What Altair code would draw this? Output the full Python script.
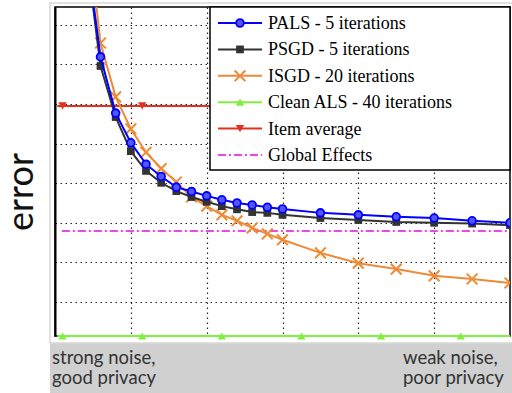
import altair as alt
import pandas as pd

# ---- data (arbitrary error units) ----
x_vals = [2, 3, 4, 5, 6, 7, 8, 9, 10, 11, 12, 13, 14, 15, 17.5, 20, 22.5, 25, 27.5, 30]
pals = [10.1, 7.19, 5.77, 5.02, 4.48, 4.17, 3.90, 3.79, 3.68, 3.58, 3.50, 3.45, 3.39, 3.35,
        3.25, 3.20, 3.15, 3.12, 3.05, 3.00]
psgd = [10.0, 6.96, 5.67, 4.81, 4.31, 4.01, 3.80, 3.65, 3.53, 3.42, 3.34, 3.27, 3.25, 3.20,
        3.12, 3.07, 3.02, 3.00, 2.98, 2.94]
isgd = [10.95, 7.54, 6.18, 5.37, 4.78, 4.37, 4.03, 3.65, 3.42, 3.20, 3.05, 2.87, 2.72, 2.57,
        2.24, 1.98, 1.83, 1.66, 1.58, 1.48]

flat_line_x = [0.15, 30]
flat_marker_x = [0.5, 5.75, 11.0, 16.25, 21.5, 26.75]
clean_als = 0.14
item_average = 5.95
global_line_x = [0.45, 30]
global_effects = 2.79

labels = ["PALS - 5 iterations", "PSGD - 5 iterations", "ISGD - 20 iterations",
          "Clean ALS - 40 iterations", "Item average", "Global Effects"]
colors = ["#0000ff", "#333333", "#ee8a35", "#80f040", "#e0321e", "#ee44ee"]

x_grid = [5, 10, 15, 20, 25]
y_grid = [1, 2, 3, 4, 5, 6, 7, 8]

X_DOMAIN = [0, 30]
Y_DOMAIN = [0.14, 8.45]
CROSS = "M-1,-1L1,1M1,-1L-1,1"
SERIF = "Liberation Serif"
SANS = "Lato"


def xenc():
    return alt.X("x:Q", scale=alt.Scale(domain=X_DOMAIN, nice=False, zero=False),
                 axis=alt.Axis(values=x_grid, labels=False, ticks=False, domain=False,
                               title=None, grid=True))


def yenc():
    return alt.Y("err:Q", scale=alt.Scale(domain=Y_DOMAIN, nice=False, zero=False),
                 axis=alt.Axis(values=y_grid, labels=False, ticks=False, domain=True,
                               domainColor="black", domainWidth=2, title=None, grid=True))


def df(xs, ys):
    return pd.DataFrame({"x": xs, "err": ys})


one = pd.DataFrame({"a": [0]})
layers = []

# figure border and bottom band
layers.append(alt.Chart(one).mark_rect(fill="#d0d0d0", clip=False).encode(
    x=alt.value(-5), x2=alt.value(460), y=alt.value(336), y2=alt.value(390)))
layers.append(alt.Chart(one).mark_rect(filled=False, stroke="#d8d8d8", strokeWidth=1.5,
                                       clip=False).encode(
    x=alt.value(-5), x2=alt.value(462), y=alt.value(-4), y2=alt.value(336)))

# flat reference lines
layers.append(alt.Chart(df(global_line_x, [global_effects] * 2)).mark_line(
    color=colors[5], strokeWidth=2, strokeDash=[8, 3, 2, 3]).encode(x=xenc(), y=yenc()))
layers.append(alt.Chart(df(flat_line_x, [item_average] * 2)).mark_line(
    color=colors[4], strokeWidth=2).encode(x=xenc(), y=yenc()))
layers.append(alt.Chart(df(flat_marker_x, [item_average] * len(flat_marker_x))).mark_point(
    shape="triangle-down", filled=True, color=colors[4], size=70, opacity=1).encode(x=xenc(), y=yenc()))
layers.append(alt.Chart(df(flat_line_x, [clean_als] * 2)).mark_line(
    color=colors[3], strokeWidth=2, clip=False).encode(x=xenc(), y=yenc()))
layers.append(alt.Chart(df(flat_marker_x, [clean_als] * len(flat_marker_x))).mark_point(
    shape="triangle-up", filled=True, color=colors[3], size=70, opacity=1, clip=False).encode(
    x=xenc(), y=yenc()))

# curves
layers.append(alt.Chart(df(x_vals, isgd)).mark_line(color=colors[2], strokeWidth=2, clip=True)
              .encode(x=xenc(), y=yenc()))
layers.append(alt.Chart(df(x_vals, isgd)).mark_point(shape=CROSS, color=colors[2], strokeWidth=2,
                                                      size=115, opacity=1, clip=True)
              .encode(x=xenc(), y=yenc()))
layers.append(alt.Chart(df(x_vals, psgd)).mark_line(color=colors[1], strokeWidth=2, clip=True)
              .encode(x=xenc(), y=yenc()))
layers.append(alt.Chart(df(x_vals, psgd)).mark_point(shape="square", filled=True, color=colors[1],
                                                      size=60, opacity=1, clip=True)
              .encode(x=xenc(), y=yenc()))
layers.append(alt.Chart(df(x_vals, pals)).mark_line(color=colors[0], strokeWidth=2, clip=True)
              .encode(x=xenc(), y=yenc()))
layers.append(alt.Chart(df(x_vals, pals)).mark_point(shape="circle", fill="#5555ff",
                                                      stroke=colors[0], strokeWidth=1.8,
                                                      filled=True, size=60, opacity=1, clip=True)
              .encode(x=xenc(), y=yenc()))

# legend box
layers.append(alt.Chart(one).mark_rect(fill="white", stroke="black", strokeWidth=1.5).encode(
    x=alt.value(155), x2=alt.value(455), y=alt.value(0), y2=alt.value(163)))
marker_styles = [
    dict(shape="circle", filled=True, fill="#5555ff", stroke=colors[0], strokeWidth=1.8, size=60),
    dict(shape="square", filled=True, color=colors[1], size=60),
    dict(shape=CROSS, color=colors[2], strokeWidth=2, size=115),
    dict(shape="triangle-up", filled=True, color=colors[3], size=70),
    dict(shape="triangle-down", filled=True, color=colors[4], size=70),
    None,
]
for i, (lab, col) in enumerate(zip(labels, colors)):
    yy = 16 + 26.4 * i
    rule_kw = dict(color=col, strokeWidth=2)
    if i == 5:
        rule_kw["strokeDash"] = [8, 3, 2, 3]
    layers.append(alt.Chart(one).mark_rule(**rule_kw).encode(
        x=alt.value(163), x2=alt.value(207), y=alt.value(yy)))
    if marker_styles[i] is not None:
        layers.append(alt.Chart(one).mark_point(opacity=1, **marker_styles[i]).encode(
            x=alt.value(185), y=alt.value(yy)))
    layers.append(alt.Chart(one).mark_text(align="left", baseline="middle", font=SERIF,
                                           fontSize=18, color="black").encode(
        x=alt.value(213), y=alt.value(yy + 1), text=alt.value(lab)))

# annotations
layers.append(alt.Chart(one).mark_text(angle=270, align="center", baseline="middle", font=SANS,
                                       fontSize=36, color="#111111").encode(
    x=alt.value(-33), y=alt.value(185), text=alt.value("error")))
layers.append(alt.Chart(one).mark_text(align="left", baseline="alphabetic", font=SANS,
                                       fontSize=18.5, color="#333333", lineHeight=20,
                                       clip=False).encode(
    x=alt.value(-3), y=alt.value(357), text=alt.value(["strong noise,", "good privacy"])))
layers.append(alt.Chart(one).mark_text(align="left", baseline="alphabetic", font=SANS,
                                       fontSize=18.5, color="#333333", lineHeight=20,
                                       clip=False).encode(
    x=alt.value(348), y=alt.value(357), text=alt.value(["weak noise,", "poor privacy"])))

chart = alt.layer(*layers).properties(
    width=455, height=329,
    padding={"left": 55, "top": 7, "right": 2, "bottom": 57},
    autosize="none",
    background="white",
).configure_view(stroke="black", strokeWidth=1.5).configure_axis(
    gridColor="black", gridDash=[1.5, 3.5], gridWidth=1.2, gridOpacity=0.85
)

chart.save("out.html", embed_options={"renderer": "svg", "actions": False})
